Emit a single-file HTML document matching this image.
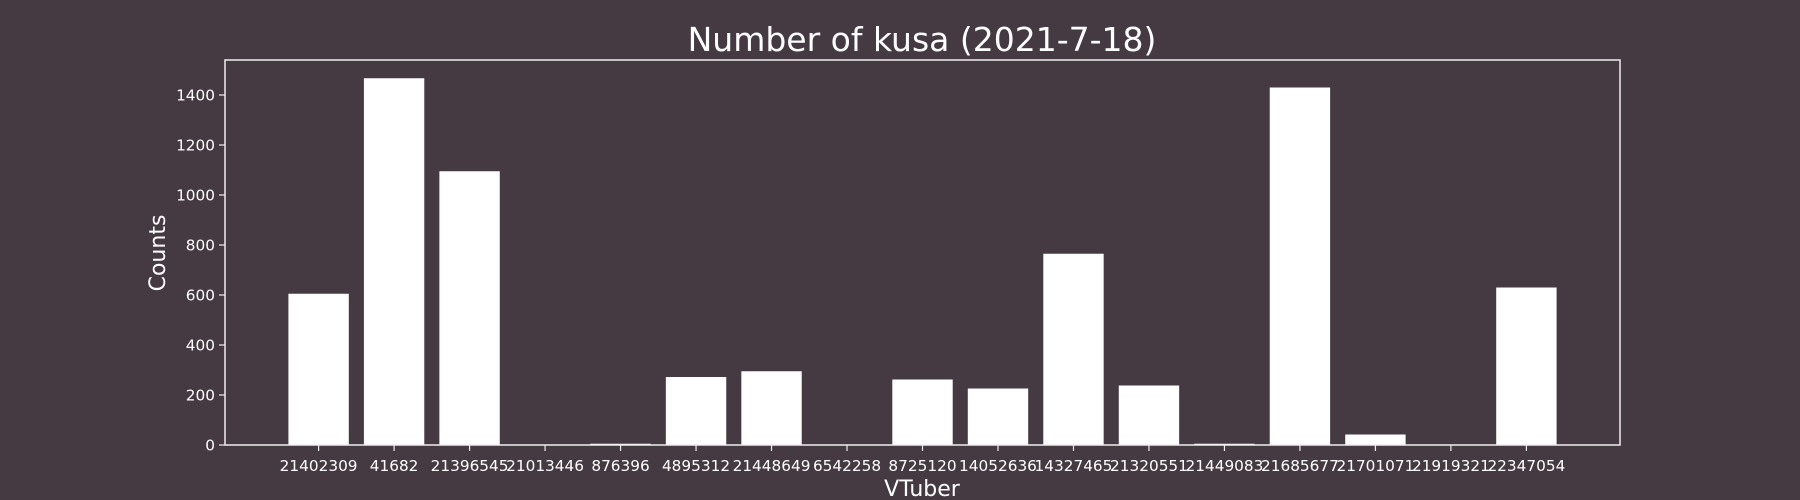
<!DOCTYPE html>
<html><head><meta charset="utf-8"><style>
html,body{margin:0;padding:0;background:#453a42;}
svg{display:block;font-family:"DejaVu Sans","Liberation Sans",sans-serif;}
</style></head><body>
<svg id="chart" width="1800" height="500">
<rect width="1800" height="500" fill="#453a42"/>
<text x="922" y="51" fill="#ffffff" font-size="33" text-anchor="middle">Number of kusa (2021-7-18)</text>
<text x="922" y="496" fill="#ffffff" font-size="22" text-anchor="middle">VTuber</text>
<text x="0" y="0" fill="#ffffff" font-size="22" text-anchor="middle" transform="translate(165,253) rotate(-90)">Counts</text>
<g id="bars"></g>
<g id="axes"></g>
</svg>
<script>
const categories = ["21402309","41682","21396545","21013446","876396","4895312","21448649","6542258","8725120","14052636","14327465","21320551","21449083","21685677","21701071","21919321","22347054"];
const counts = [605,1467,1095,2,5,272,295,0,262,226,765,238,5,1430,42,0,630];
const yTicks = [0,200,400,600,800,1000,1200,1400];

const L=225,R=1620,T=60,B=445;
const n=categories.length;
const xmin=-0.4-0.05*(n-1+0.8), xmax=n-1+0.4+0.05*(n-1+0.8);
const x=i=>L+(i-xmin)/(xmax-xmin)*(R-L);
const y=v=>B-v*0.25;
const NS="http://www.w3.org/2000/svg";
const bars=document.getElementById('bars'), axes=document.getElementById('axes');
const bw=(x(0.8)-x(0));
categories.forEach((c,i)=>{
  const r=document.createElementNS(NS,'rect');
  r.setAttribute('x',x(i)-bw/2);r.setAttribute('y',y(counts[i]));
  r.setAttribute('width',bw);r.setAttribute('height',B-y(counts[i]));
  r.setAttribute('fill','#ffffff');
  
  
  bars.appendChild(r);
  const t=document.createElementNS(NS,'line');
  t.setAttribute('x1',x(i));t.setAttribute('x2',x(i));t.setAttribute('y1',B);t.setAttribute('y2',B+6);
  t.setAttribute('stroke','#eeeeee');t.setAttribute('stroke-width','1.2');
  axes.appendChild(t);
  const lb=document.createElementNS(NS,'text');
  lb.setAttribute('x',x(i));lb.setAttribute('y',B+26);lb.setAttribute('fill','#ffffff');
  lb.setAttribute('font-size','15.3');lb.setAttribute('text-anchor','middle');
  lb.textContent=c;
  
  
  axes.appendChild(lb);
});
yTicks.forEach(v=>{
  const t=document.createElementNS(NS,'line');
  t.setAttribute('x1',L-6);t.setAttribute('x2',L);t.setAttribute('y1',y(v));t.setAttribute('y2',y(v));
  t.setAttribute('stroke','#eeeeee');t.setAttribute('stroke-width','1.2');
  axes.appendChild(t);
  const lb=document.createElementNS(NS,'text');
  lb.setAttribute('x',L-10);lb.setAttribute('y',y(v)+5.5);lb.setAttribute('fill','#ffffff');
  lb.setAttribute('font-size','15.3');lb.setAttribute('text-anchor','end');
  lb.textContent=v;
  
  
  axes.appendChild(lb);
});
const fr=document.createElementNS(NS,'rect');
fr.setAttribute('x',L);fr.setAttribute('y',T);fr.setAttribute('width',R-L);fr.setAttribute('height',B-T);
fr.setAttribute('fill','none');fr.setAttribute('stroke','#eeeeee');fr.setAttribute('stroke-width','1.5');


axes.appendChild(fr);
</script>
</body></html>
